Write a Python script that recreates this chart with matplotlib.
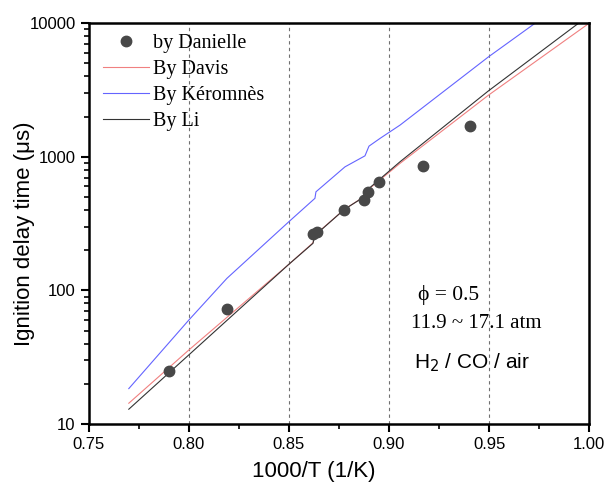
import matplotlib
matplotlib.use('Agg')
import matplotlib.pyplot as plt
from matplotlib.ticker import FixedLocator, LogLocator, NullFormatter, FixedFormatter
import numpy as np

# measured ignition delay times (Danielle)
exp_x = [0.790, 0.819, 0.862, 0.864, 0.8775, 0.8875, 0.8895, 0.895, 0.917, 0.9405]
exp_y = [25, 73, 265, 272, 399, 474, 545, 647, 851, 1698]

# model predictions
davis_x = [0.770, 0.800, 0.850, 0.862, 0.863, 0.8777, 0.887, 0.890, 0.9055, 0.9497, 1.000]
davis_y = [14.3, 35.8, 157, 227, 260, 404, 497, 575, 893, 2894, 10000]

keromnes_x = [0.770, 0.800, 0.819, 0.850, 0.863, 0.8635, 0.878, 0.888, 0.890, 0.8955, 0.9055, 0.9497, 0.973]
keromnes_y = [18.4, 60, 123, 327, 489, 547, 841, 1017, 1202, 1373, 1727, 5600, 10000]

li_x = [0.770, 0.800, 0.850, 0.862, 0.863, 0.8777, 0.887, 0.890, 0.9055, 0.9497, 0.9947]
li_y = [12.9, 32.9, 157, 225, 258, 404, 495, 580, 918, 3118, 10000]

fig = plt.figure(figsize=(6.08, 4.84), dpi=100)
ax = fig.add_axes([0.146, 0.124, 0.823, 0.828])

ax.plot(exp_x, exp_y, 'o', color='#484848', markersize=7.5, label='by Danielle', zorder=5)
ax.plot(davis_x, davis_y, color='#f08080', lw=0.8, label='By Davis')
ax.plot(keromnes_x, keromnes_y, color='#6464ff', lw=0.8, label='By Kéromnès')
ax.plot(li_x, li_y, color='#333333', lw=0.8, label='By Li')

ax.set_yscale('log')
ax.set_xlim(0.75, 1.00)
ax.set_ylim(10, 10000)

ax.xaxis.set_major_locator(FixedLocator([0.75, 0.80, 0.85, 0.90, 0.95, 1.00]))
ax.xaxis.set_major_formatter(FixedFormatter(['0.75', '0.80', '0.85', '0.90', '0.95', '1.00']))
ax.xaxis.set_minor_locator(FixedLocator([0.775, 0.825, 0.875, 0.925, 0.975]))
ax.yaxis.set_major_locator(FixedLocator([10, 100, 1000, 10000]))
ax.yaxis.set_major_formatter(FixedFormatter(['10', '100', '1000', '10000']))
ax.yaxis.set_minor_locator(LogLocator(base=10, subs=np.arange(2, 10)))
ax.yaxis.set_minor_formatter(NullFormatter())

for xg in [0.80, 0.85, 0.90, 0.95]:
    ax.axvline(xg, color='#707070', lw=0.8, ls=(0, (3, 3)), zorder=0)

for s in ax.spines.values():
    s.set_linewidth(1.8)
ax.tick_params(which='major', direction='out', length=6, width=1.5,
               labelsize=12, top=False, right=False)
ax.tick_params(which='minor', direction='out', length=3.5, width=1.2,
               top=False, right=False)
for lab in ax.get_xticklabels() + ax.get_yticklabels():
    lab.set_family('Liberation Sans')

ax.set_xlabel('1000/T (1/K)', fontsize=16, family='Liberation Sans')
ax.set_ylabel('Ignition delay time (μs)', fontsize=16, family='Liberation Sans')
ax.xaxis.set_label_coords(0.45, -0.092)
ax.yaxis.set_label_coords(-0.108, 0.475)

leg = ax.legend(loc='upper left', bbox_to_anchor=(0.028, 0.9735), frameon=False,
                handlelength=2.3, handletextpad=0.2, labelspacing=0.34,
                borderaxespad=0, borderpad=0,
                prop={'family': 'Liberation Serif', 'size': 14.5})

ax.text(0.9145, 92, '\u03d5 = 0.5', fontsize=15.5, family=['Liberation Serif', 'DejaVu Serif'],
        ha='left', va='center')
ax.text(0.911, 57, '11.9 ~ 17.1 atm', fontsize=15, family='Liberation Serif',
        ha='left', va='center')
ax.text(0.9125, 29, 'H$_2$ / CO / air', fontsize=15, family='Liberation Sans',
        ha='left', va='center')

fig.savefig('out.png', dpi=100)
